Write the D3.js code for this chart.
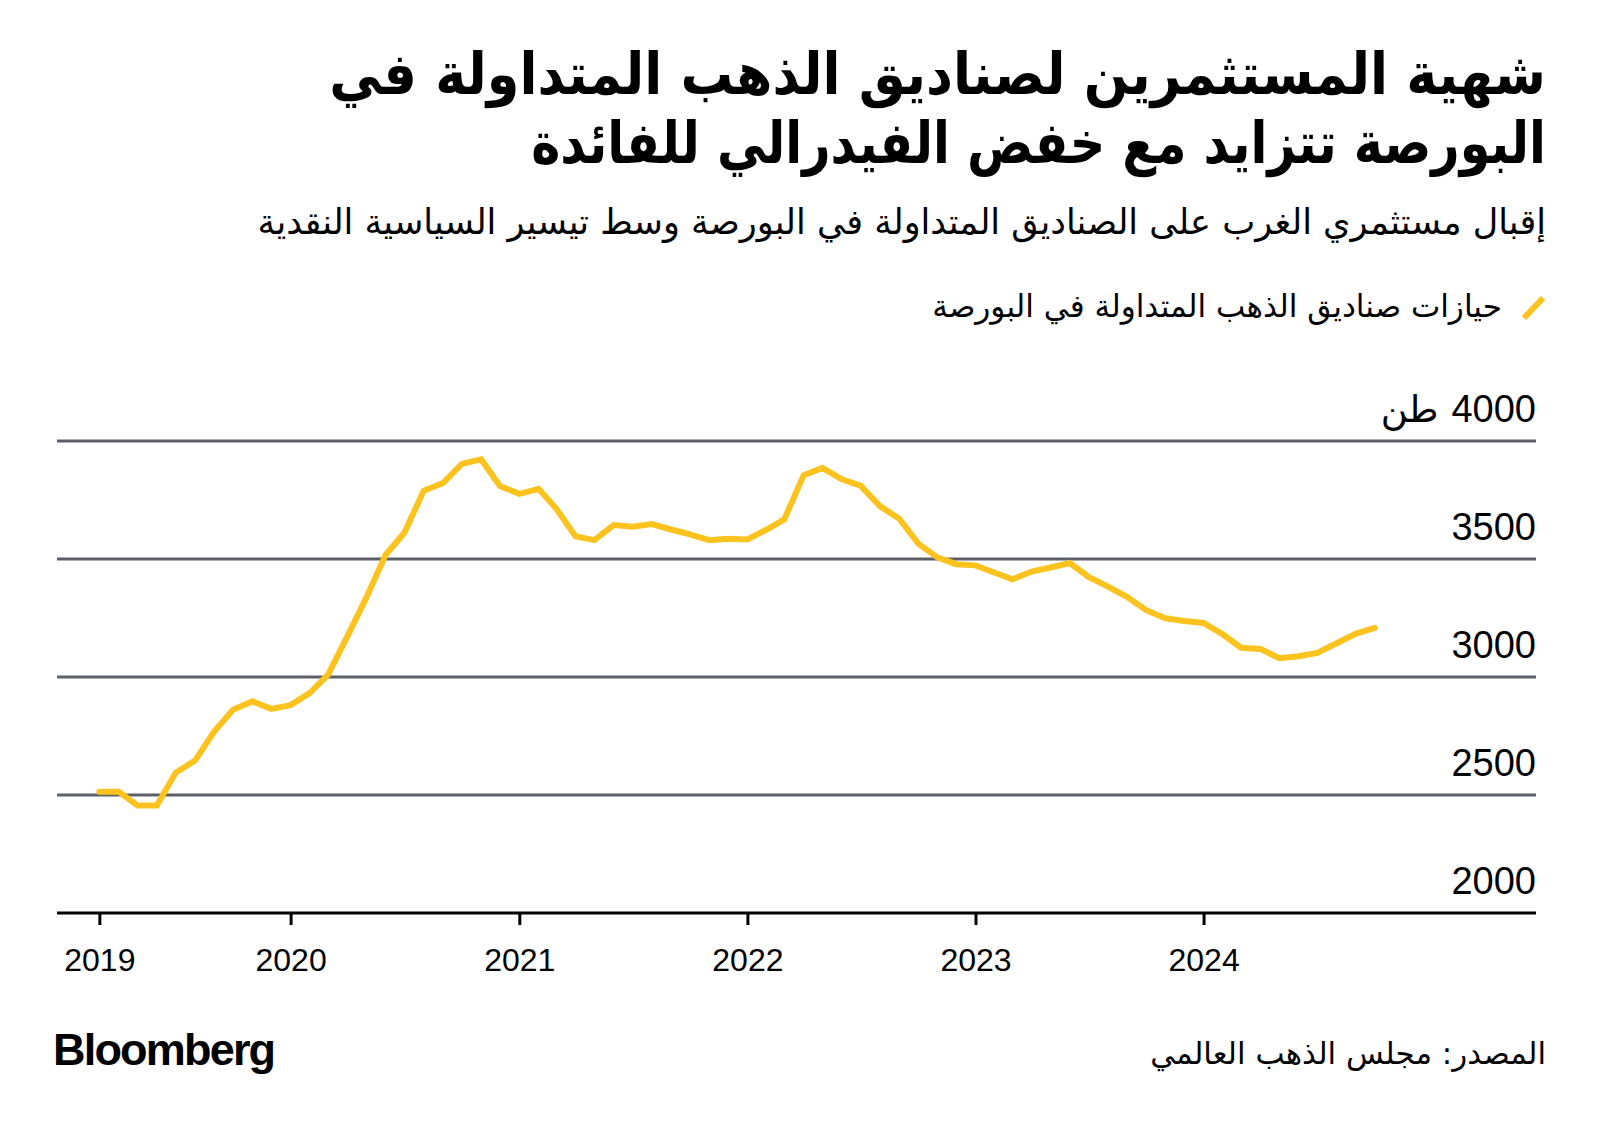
<!DOCTYPE html>
<html>
<head>
<meta charset="utf-8">
<script src="https://cdn.jsdelivr.net/npm/d3@7"></script>
<style>
  html, body { margin: 0; padding: 0; background: #ffffff; }
  svg { display: block; }
  .ar { font-family: "DejaVu Sans", "Noto Sans", sans-serif; }
  .num { font-family: "Liberation Sans", Arial, sans-serif; }
</style>
</head>
<body>
<svg id="chart" width="1600" height="1129"></svg>
<script>
// ---- Data (monthly ETF gold holdings, tonnes) ----
const months = [
  "2019-03","2019-04","2019-05","2019-06","2019-07","2019-08","2019-09","2019-10","2019-11","2019-12",
  "2020-01","2020-02","2020-03","2020-04","2020-05","2020-06","2020-07","2020-08","2020-09","2020-10","2020-11","2020-12",
  "2021-01","2021-02","2021-03","2021-04","2021-05","2021-06","2021-07","2021-08","2021-09","2021-10","2021-11","2021-12",
  "2022-01","2022-02","2022-03","2022-04","2022-05","2022-06","2022-07","2022-08","2022-09","2022-10","2022-11","2022-12",
  "2023-01","2023-02","2023-03","2023-04","2023-05","2023-06","2023-07","2023-08","2023-09","2023-10","2023-11","2023-12",
  "2024-01","2024-02","2024-03","2024-04","2024-05","2024-06","2024-07","2024-08","2024-09","2024-10"
];
const holdings = [
  2514,2514,2456,2456,2594,2646,2770,2861,2897,2865,
  2881,2933,3010,3173,3335,3517,3611,3789,3822,3903,3922,3809,
  3776,3797,3714,3596,3580,3644,3637,3648,3625,3604,3580,3586,
  3583,3625,3668,3855,3886,3838,3811,3724,3671,3566,3507,3478,
  3473,3442,3414,3447,3464,3483,3424,3383,3339,3283,3249,3237,
  3229,3180,3124,3119,3080,3088,3102,3143,3184,3208
];
const yTicks = [2000, 2500, 3000, 3500, 4000];
const yUnit = "طن";
const xTickLabels = ["2019","2020","2021","2022","2023","2024"];

const titleLines = [
  "شهية المستثمرين لصناديق الذهب المتداولة في",
  "البورصة تتزايد مع خفض الفيدرالي للفائدة"
];
const subtitle = "إقبال مستثمري الغرب على الصناديق المتداولة في البورصة وسط تيسير السياسية النقدية";
const legendLabel = "حيازات صناديق الذهب المتداولة في البورصة";
const sourceText = "المصدر: مجلس الذهب العالمي";
const brand = "Bloomberg";

// ---- Layout ----
const W = 1600, H = 1129;
const rightEdge = 1546;
const plot = { left: 57, right: 1536, top: 441, bottom: 913 };
const gold = "#fcc31e";
const gridColor = "#5b6068";

const parse = d3.timeParse("%Y-%m");
const data = months.map((m, i) => ({ date: parse(m), value: holdings[i] }));

const svg = d3.select("#chart");

const pxPerYear = (1204 - 290.8) / 4;
const x = d3.scaleTime()
  .domain([new Date(2019, 0, 1), new Date(2025, 0, 1)])
  .range([290.8 - pxPerYear, 290.8 + 5 * pxPerYear]);
const y = d3.scaleLinear().domain([2000, 4000]).range([plot.bottom, plot.top]);

// helper: RTL text fitted to a target width by horizontal scaling
function rtlScaled(txt, yPos, size, weight, targetW) {
  const g = svg.append("g").attr("transform", `translate(${rightEdge},${yPos})`);
  const t = g.append("text").attr("class", "ar")
    .attr("x", 0).attr("y", 0)
    .attr("direction", "rtl").attr("text-anchor", "start")
    .attr("font-size", size).attr("font-weight", weight).attr("fill", "#000")
    .text(txt);
  const w = t.node().getComputedTextLength();
  g.attr("transform", `translate(${rightEdge},${yPos}) scale(${targetW / w},1)`);
  return g;
}
// helper: RTL text with font size chosen to fit a target width
function rtlFit(txt, yPos, baseSize, targetW) {
  const t = svg.append("text").attr("class", "ar")
    .attr("x", rightEdge).attr("y", yPos)
    .attr("direction", "rtl").attr("text-anchor", "start")
    .attr("font-size", baseSize).attr("fill", "#000")
    .text(txt);
  const w = t.node().getComputedTextLength();
  t.attr("font-size", baseSize * targetW / w);
  return t;
}

// Title
rtlScaled(titleLines[0], 94, 58, "bold", 1217);
rtlScaled(titleLines[1], 163, 58, "bold", 1015);

// Subtitle
rtlFit(subtitle, 234, 30, 1289);

// Legend
svg.append("line")
  .attr("x1", 1524).attr("y1", 318).attr("x2", 1543).attr("y2", 298)
  .attr("stroke", gold).attr("stroke-width", 6);
const legT = svg.append("text").attr("class", "ar")
  .attr("x", 1502).attr("y", 317)
  .attr("direction", "rtl").attr("text-anchor", "start")
  .attr("font-size", 28).attr("fill", "#000")
  .text(legendLabel);
legT.attr("font-size", 28 * 570 / legT.node().getComputedTextLength());

// Gridlines
const yAxisG = svg.append("g");
yAxisG.selectAll("line.grid").data(yTicks.filter(v => v > 2000)).join("line")
  .attr("class", "grid")
  .attr("x1", plot.left).attr("x2", plot.right)
  .attr("y1", d => y(d)).attr("y2", d => y(d))
  .attr("stroke", gridColor).attr("stroke-width", 3);

// Y labels
yAxisG.selectAll("text.ylab").data(yTicks).join("text")
  .attr("class", "ylab num")
  .attr("x", plot.right).attr("y", d => y(d) - 19)
  .attr("text-anchor", "end")
  .attr("font-size", 38).attr("fill", "#000")
  .text(d => d);
// unit to the left of the top label
const topLab = yAxisG.selectAll("text.ylab").filter(d => d === 4000).node();
const topW = topLab.getComputedTextLength();
yAxisG.append("text").attr("class", "ar")
  .attr("x", plot.right - topW - 13).attr("y", y(4000) - 19)
  .attr("text-anchor", "end")
  .attr("font-size", 37).attr("fill", "#000")
  .text(yUnit);

// X axis: tick at first data point of each year
const tickDates = xTickLabels.map(yr => data.find(d => d.date.getFullYear() === +yr).date);
const xAxis = d3.axisBottom(x)
  .tickValues(tickDates)
  .tickSize(12)
  .tickPadding(23)
  .tickFormat(d3.timeFormat("%Y"));
const xg = svg.append("g").attr("transform", `translate(0,${plot.bottom})`).call(xAxis);
xg.select(".domain").remove();
xg.selectAll(".tick line").attr("stroke", "#000").attr("stroke-width", 3);
xg.selectAll(".tick text").attr("font-size", 32).attr("fill", "#000")
  .attr("font-family", "Liberation Sans, Arial, sans-serif");
svg.append("line")
  .attr("x1", plot.left).attr("x2", plot.right)
  .attr("y1", plot.bottom).attr("y2", plot.bottom)
  .attr("stroke", "#000").attr("stroke-width", 3);

// Line
const line = d3.line().x(d => x(d.date)).y(d => y(d.value));
svg.append("path").datum(data)
  .attr("d", line)
  .attr("fill", "none").attr("stroke", gold)
  .attr("stroke-width", 6).attr("stroke-linejoin", "miter").attr("stroke-linecap", "round");

// Footer
const src = svg.append("text").attr("class", "ar")
  .attr("x", rightEdge).attr("y", 1064)
  .attr("direction", "rtl").attr("text-anchor", "start")
  .attr("font-size", 28).attr("fill", "#000")
  .text(sourceText);
src.attr("font-size", 28 * 396 / src.node().getComputedTextLength());
const br = svg.append("text")
  .attr("x", 53).attr("y", 1065)
  .attr("font-family", "Liberation Sans, Arial, sans-serif")
  .attr("font-size", 45).attr("font-weight", "bold").attr("letter-spacing", -1.8)
  .attr("fill", "#000")
  .text(brand);
</script>
</body>
</html>
